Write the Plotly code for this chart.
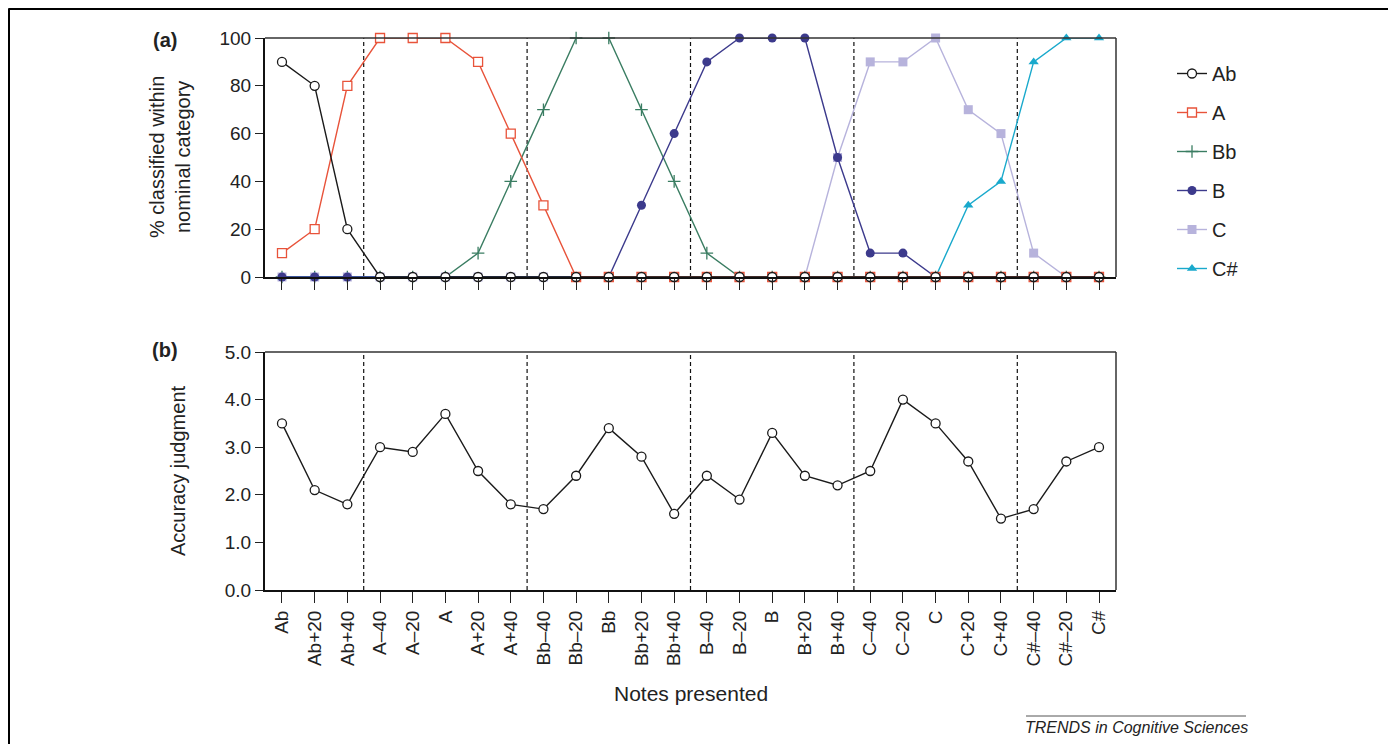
import plotly.graph_objects as go

notes = ["Ab", "Ab+20", "Ab+40", "A–40", "A–20", "A", "A+20", "A+40",
         "Bb–40", "Bb–20", "Bb", "Bb+20", "Bb+40", "B–40", "B–20", "B",
         "B+20", "B+40", "C–40", "C–20", "C", "C+20", "C+40",
         "C#–40", "C#–20", "C#"]

pct_Ab = [90, 80, 20, 0, 0, 0, 0, 0, 0, 0, 0, 0, 0, 0, 0, 0, 0, 0, 0, 0, 0, 0, 0, 0, 0, 0]
pct_A = [10, 20, 80, 100, 100, 100, 90, 60, 30, 0, 0, 0, 0, 0, 0, 0, 0, 0, 0, 0, 0, 0, 0, 0, 0, 0]
pct_Bb = [0, 0, 0, 0, 0, 0, 10, 40, 70, 100, 100, 70, 40, 10, 0, 0, 0, 0, 0, 0, 0, 0, 0, 0, 0, 0]
pct_B = [0, 0, 0, 0, 0, 0, 0, 0, 0, 0, 0, 30, 60, 90, 100, 100, 100, 50, 10, 10, 0, 0, 0, 0, 0, 0]
pct_C = [0, 0, 0, 0, 0, 0, 0, 0, 0, 0, 0, 0, 0, 0, 0, 0, 0, 50, 90, 90, 100, 70, 60, 10, 0, 0]
pct_Cs = [0, 0, 0, 0, 0, 0, 0, 0, 0, 0, 0, 0, 0, 0, 0, 0, 0, 0, 0, 0, 0, 30, 40, 90, 100, 100]

accuracy = [3.5, 2.1, 1.8, 3.0, 2.9, 3.7, 2.5, 1.8, 1.7, 2.4, 3.4, 2.8, 1.6,
            2.4, 1.9, 3.3, 2.4, 2.2, 2.5, 4.0, 3.5, 2.7, 1.5, 1.7, 2.7, 3.0]

boundaries = [2.5, 7.5, 12.5, 17.5, 22.5]

# page body has an 8px margin; figure fills the rest of the 1396x752 window
OFF = 8
W, H = 1396 - 2 * OFF, 752 - 2 * OFF
FONT = "Liberation Sans, Arial, sans-serif"
TXT = "#222222"


def sx(p):
    return (p - OFF) / W


def sy(p):
    return 1 - (p - OFF) / H


series = [
    # name, values, color, symbol, filled, rank
    ("Bb", pct_Bb, "#3a7d62", "cross-thin", True, 3),
    ("C", pct_C, "#b7b3dc", "square", True, 5),
    ("C#", pct_Cs, "#19a9cc", "triangle-up", True, 6),
    ("B", pct_B, "#3c3a8c", "circle", True, 4),
    ("A", pct_A, "#e8533a", "square-open", False, 2),
    ("Ab", pct_Ab, "#1a1a1a", "circle-open", False, 1),
]

fig = go.Figure()

for name, vals, col, sym, filled, rank in series:
    if sym == "cross-thin":
        marker = dict(symbol=sym, size=9, color=col, line=dict(color=col, width=1.3))
    elif filled:
        marker = dict(symbol=sym, size=9, color=col, line=dict(color=col, width=0))
    else:
        base = sym.replace("-open", "")
        marker = dict(symbol=base, size=9, color="white", line=dict(color=col, width=1.3))
    fig.add_trace(go.Scatter(
        x=notes, y=vals, name=name, mode="lines+markers",
        line=dict(color=col, width=1.4), marker=marker,
        xaxis="x", yaxis="y", legendrank=rank, legendgroup=name,
        cliponaxis=False,
    ))

fig.add_trace(go.Scatter(
    x=notes, y=accuracy, mode="lines+markers", showlegend=False,
    line=dict(color="#1a1a1a", width=1.4),
    marker=dict(symbol="circle", size=9, color="white", line=dict(color="#1a1a1a", width=1.3)),
    xaxis="x2", yaxis="y2", cliponaxis=False,
))

xdom = [sx(265), sx(1116)]
axis_common = dict(
    type="category", categoryorder="array", categoryarray=notes,
    range=[-0.52, len(notes) - 1 + 0.52], domain=xdom,
    showgrid=False, zeroline=False, automargin=False,
    ticks="outside", ticklen=11, tickwidth=1.2, tickcolor="#222222",
    showline=True, linecolor="#111111", linewidth=2,
    tickfont=dict(family=FONT, size=19, color=TXT),
)
yaxis_common = dict(
    ticks="outside", ticklen=8, tickwidth=1.2, tickcolor="#222222",
    showline=True, linecolor="#111111", linewidth=2, showgrid=False,
    zeroline=False, automargin=False,
    tickfont=dict(family=FONT, size=19, color=TXT),
)

fig.update_layout(
    template="none",
    width=W, height=H,
    margin=dict(l=0, r=0, t=0, b=0, pad=0),
    paper_bgcolor="white", plot_bgcolor="white",
    font=dict(family=FONT, color=TXT),
    xaxis=dict(axis_common, anchor="y", showticklabels=False),
    xaxis2=dict(axis_common, anchor="y2", showticklabels=True, tickangle=-90),
    yaxis=dict(yaxis_common, domain=[sy(277), sy(38)], range=[0, 100], anchor="x",
               tickvals=[0, 20, 40, 60, 80, 100]),
    yaxis2=dict(yaxis_common, domain=[sy(590), sy(352)], range=[0, 5], anchor="x2",
                tickvals=[0, 1, 2, 3, 4, 5], tickformat=".1f"),
    legend=dict(
        x=sx(1172), y=sy(54), xanchor="left", yanchor="top",
        font=dict(family=FONT, size=20, color=TXT),
        traceorder="grouped", tracegroupgap=10,
        bgcolor="rgba(0,0,0,0)", itemwidth=30,
    ),
    showlegend=True,
)

DASH = "4px,3px"
shapes = []
for xr, yr in (("x domain", "y domain"), ("x2 domain", "y2 domain")):
    shapes.append(dict(type="line", xref=xr, yref=yr, x0=0, x1=1, y0=1, y1=1,
                       line=dict(color="#333333", width=1.5)))
    shapes.append(dict(type="line", xref=xr, yref=yr, x0=1, x1=1, y0=0, y1=1,
                       line=dict(color="#333333", width=1.5)))
for b in boundaries:
    shapes.append(dict(type="line", xref="x", yref="y domain", x0=b, x1=b, y0=0, y1=1,
                       line=dict(color="#111111", width=1.2, dash=DASH), layer="below"))
    shapes.append(dict(type="line", xref="x2", yref="y2 domain", x0=b, x1=b, y0=0, y1=1,
                       line=dict(color="#111111", width=1.2, dash=DASH), layer="below"))
# outer frame (open at bottom)
shapes.append(dict(type="line", xref="paper", yref="paper", x0=sx(8.5), x1=sx(8.5),
                   y0=-0.05, y1=sy(8.5), line=dict(color="black", width=3)))
shapes.append(dict(type="line", xref="paper", yref="paper", x0=sx(8.5), x1=sx(1391),
                   y0=sy(8.5), y1=sy(8.5), line=dict(color="black", width=3)))
shapes.append(dict(type="line", xref="paper", yref="paper", x0=sx(1391), x1=sx(1391),
                   y0=-0.05, y1=sy(8.5), line=dict(color="black", width=3)))
# footer rule
shapes.append(dict(type="line", xref="paper", yref="paper", x0=sx(1026), x1=sx(1246),
                   y0=sy(716), y1=sy(716), line=dict(color="#555555", width=1)))
fig.update_layout(shapes=shapes)


def ann(text, x, y, size, angle=0):
    return dict(text=text, x=sx(x), y=sy(y), xref="paper", yref="paper",
                xanchor="center", yanchor="middle", showarrow=False,
                textangle=angle, font=dict(family=FONT, size=size, color=TXT))


annotations = [
    ann("<b>(a)</b>", 165, 40, 20),
    ann("<b>(b)</b>", 165, 350, 20),
    ann("% classified within<br>nominal category", 170, 157, 20, -90),
    ann("Accuracy judgment", 178, 471, 20, -90),
    ann("Notes presented", 691, 693, 21),
    ann("<i>TRENDS in Cognitive Sciences</i>", 1136, 727, 16),
]
fig.update_layout(annotations=annotations)

fig.write_html("out.html")
